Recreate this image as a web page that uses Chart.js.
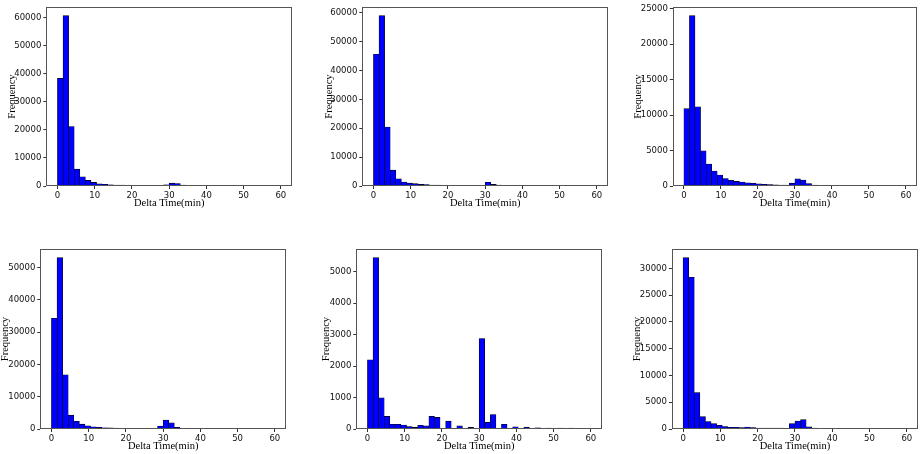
<!DOCTYPE html>
<html>
<head>
<meta charset="utf-8">
<script src="https://cdn.jsdelivr.net/npm/chart.js@4.4.1/dist/chart.umd.min.js"></script>
<style>
  html, body { margin: 0; padding: 0; background: #fff; }
  body { width: 920px; height: 454px; position: relative; overflow: hidden; }
  canvas { position: absolute; }
</style>
</head>
<body>
<canvas id="c1"></canvas>
<canvas id="c2"></canvas>
<canvas id="c3"></canvas>
<canvas id="c4"></canvas>
<canvas id="c5"></canvas>
<canvas id="c6"></canvas>
<script>
// ---- data ----
const binStart = 0;
const binWidth = 1.5;
const xTicks = [0, 10, 20, 30, 40, 50, 60];
const xLabel = 'Delta Time(min)';
const yLabel = 'Frequency';

const counts1 = [38400, 60800, 21200, 6000, 3300, 2000, 1300, 800, 600, 450, 350, 300, 250, 200, 180, 150, 120, 100, 100, 400, 1000, 900, 350, 150, 100, 80, 60, 50, 40, 30, 30, 20, 20, 20, 15, 15, 10, 10, 10, 10];
const counts2 = [45600, 59000, 20400, 5500, 2500, 1400, 1000, 800, 550, 450, 340, 300, 220, 200, 150, 120, 100, 90, 80, 60, 1300, 550, 300, 120, 80, 60, 50, 40, 30, 30, 30, 30, 20, 30, 20, 15, 10, 10, 10, 10];
const counts3 = [10900, 24000, 11150, 4950, 3100, 2100, 1550, 1050, 800, 650, 550, 450, 380, 300, 250, 200, 150, 140, 120, 400, 1000, 850, 350, 140, 90, 70, 60, 50, 40, 40, 30, 30, 30, 20, 20, 20, 15, 15, 10, 10];
const counts4 = [34300, 53100, 16800, 4300, 2400, 1500, 1000, 700, 500, 400, 330, 300, 230, 200, 180, 150, 130, 110, 100, 900, 2800, 1900, 500, 200, 120, 90, 70, 50, 40, 30, 30, 20, 20, 20, 15, 15, 10, 10, 10, 10];
const counts5 = [2200, 5450, 990, 400, 150, 150, 125, 80, 50, 120, 100, 400, 370, 15, 250, 10, 100, 10, 50, 10, 2880, 210, 460, 20, 150, 5, 70, 5, 60, 5, 40, 5, 30, 5, 30, 5, 30, 5, 20, 5];
const counts6 = [32000, 28350, 6800, 2300, 1400, 1000, 700, 450, 300, 300, 250, 370, 280, 180, 180, 150, 180, 150, 130, 1000, 1500, 1750, 400, 180, 120, 100, 80, 60, 50, 40, 30, 30, 20, 20, 20, 15, 15, 10, 10, 10];

const yTicks1 = [0, 10000, 20000, 30000, 40000, 50000, 60000];
const yTicks2 = [0, 10000, 20000, 30000, 40000, 50000, 60000];
const yTicks3 = [0, 5000, 10000, 15000, 20000, 25000];
const yTicks4 = [0, 10000, 20000, 30000, 40000, 50000];
const yTicks5 = [0, 1000, 2000, 3000, 4000, 5000];
const yTicks6 = [0, 5000, 10000, 15000, 20000, 25000, 30000];

// ---- layout (plot boxes in page pixels) ----
const panels = [
  { id: 'c1', counts: counts1, yTicks: yTicks1, box: [46, 3, 292, 186],  titleOff: 34, xh: 24 },
  { id: 'c2', counts: counts2, yTicks: yTicks2, box: [362, 3, 608, 186], titleOff: 33, xh: 24 },
  { id: 'c3', counts: counts3, yTicks: yTicks3, box: [673, 3, 917, 186], titleOff: 34.5, xh: 24 },
  { id: 'c4', counts: counts4, yTicks: yTicks4, box: [40, 245, 286, 429], titleOff: 35, xh: 24 },
  { id: 'c5', counts: counts5, yTicks: yTicks5, box: [356, 245, 602, 429], titleOff: 30, xh: 24 },
  { id: 'c6', counts: counts6, yTicks: yTicks6, box: [672, 245, 918, 429], titleOff: 34.6, xh: 24 }
];

const framePlugin = {
  id: 'frame',
  afterDraw(chart) {
    const { ctx, chartArea: a } = chart;
    ctx.save();
    ctx.strokeStyle = '#555';
    ctx.lineWidth = 1;
    ctx.strokeRect(Math.round(a.left) + 0.5, Math.round(a.top) + 0.5,
                   Math.round(a.right - a.left) - 1, Math.round(a.bottom - a.top) - 1);
    ctx.restore();
  }
};

const tickFont = { family: 'DejaVu Sans', size: 8.5 };
const titleFont = { family: 'Liberation Serif', size: 10.5 };

panels.forEach(p => {
  const [L, T, R, B] = p.box;
  const titleFontLH = titleFont.size * 1.2;
  const wy = p.titleOff + titleFontLH / 2;
  const padTop = 3;
  const padRight = 2;
  const cw = Math.round(wy + (R - L) + padRight);
  const ch = Math.round(padTop + (B - T) + p.xh);
  const cv = document.getElementById(p.id);
  cv.width = cw; cv.height = ch;
  cv.style.width = cw + 'px'; cv.style.height = ch + 'px';
  cv.style.left = (L - wy) + 'px';
  cv.style.top = (T - padTop) + 'px';

  const pts = p.counts.map((v, i) => ({ x: binStart + binWidth * (i + 0.5), y: v }));
  const yMax = Math.max(...p.counts) * 1.05;

  new Chart(cv, {
    type: 'bar',
    data: {
      datasets: [{
        data: pts,
        backgroundColor: '#0000ff',
        borderColor: '#000000',
        borderWidth: 0.6,
        barPercentage: 1,
        categoryPercentage: 1
      }]
    },
    options: {
      responsive: false,
      animation: false,
      devicePixelRatio: 1,
      layout: { padding: { top: padTop, right: padRight, left: 0, bottom: 0 } },
      plugins: { legend: { display: false }, tooltip: { enabled: false } },
      scales: {
        x: {
          type: 'linear',
          min: binStart - 3,
          max: binStart + 40 * binWidth + 3,
          offset: false,
          border: { display: false },
          grid: { display: true, drawOnChartArea: false, drawTicks: true, tickLength: 3, color: '#333', offset: false },
          ticks: { font: tickFont, color: '#111', padding: 2, maxRotation: 0, autoSkip: false, callback: v => String(v) },
          afterBuildTicks: s => { s.ticks = xTicks.map(v => ({ value: v })); },
          afterFit: s => { s.height = p.xh; },
          title: { display: true, text: xLabel, font: titleFont, color: '#000', padding: 0 }
        },
        y: {
          type: 'linear',
          min: 0,
          max: yMax,
          border: { display: false },
          grid: { display: true, drawOnChartArea: false, drawTicks: true, tickLength: 3, color: '#333' },
          ticks: { font: tickFont, color: '#111', padding: 2, autoSkip: false, callback: v => String(v) },
          afterBuildTicks: s => { s.ticks = p.yTicks.map(v => ({ value: v })); },
          afterFit: s => { s.width = wy; },
          title: { display: true, text: yLabel, font: titleFont, color: '#000', padding: 0 }
        }
      }
    },
    plugins: [framePlugin]
  });
});
</script>
</body>
</html>
